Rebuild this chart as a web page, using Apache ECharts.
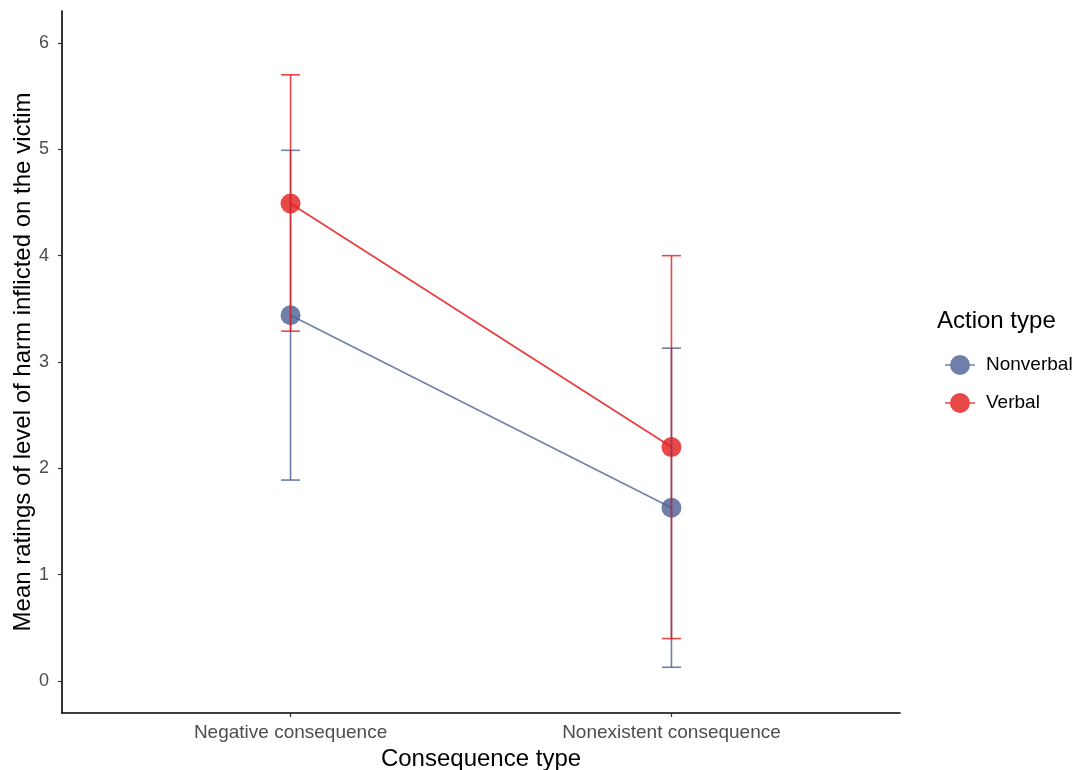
<!DOCTYPE html>
<html>
<head>
<meta charset="utf-8">
<script src="https://cdn.jsdelivr.net/npm/echarts@6/dist/echarts.min.js"></script>
<style>html,body{margin:0;padding:0;background:#fff;overflow:hidden}#c{width:1073px;height:770px}</style>
</head>
<body>
<div id="c"></div>
<script>
var categories = ['Negative consequence', 'Nonexistent consequence'];
var groups = ['Nonverbal', 'Verbal'];
var nonverbalMean = [3.44, 1.63];
var nonverbalLow = [1.89, 0.13];
var nonverbalHigh = [4.99, 3.13];
var verbalMean = [4.49, 2.20];
var verbalLow = [3.29, 0.40];
var verbalHigh = [5.70, 4.00];
var yTicks = [0, 1, 2, 3, 4, 5, 6];

var colors = {Nonverbal: 'rgba(74,95,148,0.8)', Verbal: 'rgba(228,26,28,0.8)'};
var lineColors = {Nonverbal: 'rgba(74,95,148,0.78)', Verbal: 'rgba(228,26,28,0.85)'};
var FONT = 'Liberation Sans, Arial, sans-serif';

function pts(arr) { return arr.map(function (v, i) { return [i + 1, v]; }); }
function ebData(lo, hi) { return lo.map(function (v, i) { return [i + 1, v, hi[i]]; }); }

function errSeries(name, lo, hi) {
  return {
    name: name, type: 'custom', z: 5,
    data: ebData(lo, hi),
    renderItem: function (params, api) {
      var x = api.value(0);
      var a = api.coord([x, api.value(1)]);
      var b = api.coord([x, api.value(2)]);
      var hw = 9.5;
      var st = {stroke: colors[name], lineWidth: 1.6};
      return {type: 'group', children: [
        {type: 'line', shape: {x1: a[0], y1: a[1], x2: b[0], y2: b[1]}, style: st},
        {type: 'line', shape: {x1: a[0] - hw, y1: a[1], x2: a[0] + hw, y2: a[1]}, style: st},
        {type: 'line', shape: {x1: b[0] - hw, y1: b[1], x2: b[0] + hw, y2: b[1]}, style: st}
      ]};
    }
  };
}
function lineSeries(name, mean) {
  return {
    name: name, type: 'line', z: 3,
    data: pts(mean),
    symbol: 'circle', symbolSize: 20,
    itemStyle: {color: colors[name], borderWidth: 0},
    lineStyle: {color: lineColors[name], width: 1.7},
    emphasis: {disabled: true}
  };
}

var iconPath = 'path://M0,9.2L30,9.2L30,10.8L0,10.8Z M15,0A10,10 0 1 1 14.99,0Z';

var chart = echarts.init(document.getElementById('c'));
chart.setOption({
  animation: false,
  backgroundColor: '#fff',
  textStyle: {fontFamily: FONT},
  grid: {left: 62, right: 173, top: 11, bottom: 57, containLabel: false, outerBoundsMode: 'none'},
  title: {text: 'Action type', left: 932, top: 304,
    textStyle: {fontSize: 24, fontWeight: 'normal', color: '#000', fontFamily: FONT}},
  legend: {
    orient: 'vertical', left: 940, top: 350, itemGap: 18,
    itemWidth: 30, itemHeight: 20,
    textStyle: {fontSize: 19, color: '#000', padding: [0, 0, 0, 6], fontFamily: FONT},
    data: groups.map(function (g) { return {name: g, icon: iconPath, itemStyle: {color: colors[g]}}; }),
    selectedMode: false
  },
  xAxis: {
    type: 'value', min: 0.4, max: 2.6,
    name: 'Consequence type', nameLocation: 'middle', nameGap: 34, nameMoveOverlap: false,
    nameTextStyle: {fontSize: 24, color: '#000', fontFamily: FONT},
    axisLine: {show: true, onZero: false, lineStyle: {color: '#000', width: 1.6}},
    axisTick: {show: true, customValues: [1, 2], length: 4, lineStyle: {color: '#333', width: 1.2}},
    axisLabel: {customValues: [1, 2], fontSize: 19, color: '#4d4d4d', margin: 10, fontFamily: FONT,
      formatter: function (v) { return categories[Math.round(v) - 1] || ''; }},
    splitLine: {show: false}
  },
  yAxis: {
    type: 'value', min: -0.3, max: 6.3,
    name: 'Mean ratings of level of harm inflicted on the victim', nameLocation: 'middle', nameGap: 27, nameMoveOverlap: false,
    nameTextStyle: {fontSize: 24, color: '#000', fontFamily: FONT},
    axisLine: {show: true, onZero: false, lineStyle: {color: '#000', width: 1.6}},
    axisTick: {show: true, customValues: yTicks, length: 4, lineStyle: {color: '#333', width: 1.2}},
    axisLabel: {customValues: yTicks, fontSize: 18, color: '#4d4d4d', margin: 13, fontFamily: FONT},
    splitLine: {show: false}
  },
  series: [
    lineSeries('Nonverbal', nonverbalMean),
    lineSeries('Verbal', verbalMean),
    errSeries('Nonverbal', nonverbalLow, nonverbalHigh),
    errSeries('Verbal', verbalLow, verbalHigh)
  ]
});
</script>
</body>
</html>
